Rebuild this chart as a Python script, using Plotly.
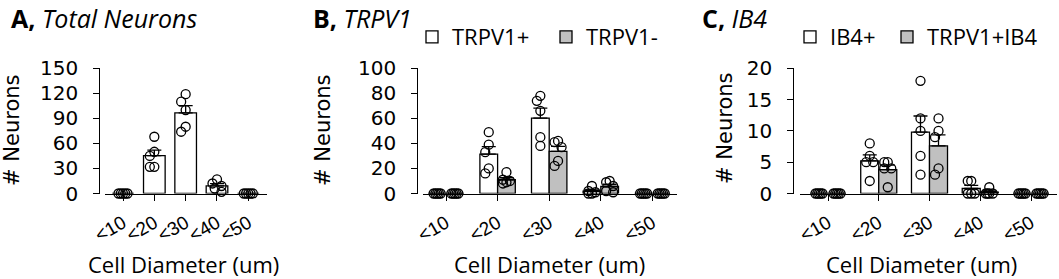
import numpy as np
import plotly.graph_objects as go

# ---------------- data ----------------
categories = ["<10", "<20", "<30", "<40", "<50"]

# Panel A – total neurons per animal (5 animals per size bin)
total_neurons = [[0, 0, 0, 0, 0],
                 [68, 50, 45, 32, 32],
                 [119, 110, 100, 80, 74],
                 [17, 12, 9, 6, 2],
                 [0, 0, 0, 0, 0]]

# Panel B – TRPV1
trpv1_pos = [[0, 0, 0, 0, 0],
             [49, 39, 33, 20, 16],
             [78, 74, 66, 45, 38],
             [6, 2, 1, 0, 0],
             [0, 0, 0, 0, 0]]
trpv1_neg = [[0, 0, 0, 0, 0],
             [17, 11, 10, 9, 8],
             [42, 41, 37, 26, 22],
             [10, 9, 6, 2, 1],
             [0, 0, 0, 0, 0]]

# Panel C – IB4
ib4_pos = [[0, 0, 0, 0, 0],
           [8, 6, 5, 5, 2],
           [18, 12, 10, 6, 3],
           [2, 2, 0, 0, 0],
           [0, 0, 0, 0, 0]]
trpv1_ib4 = [[0, 0, 0, 0, 0],
             [5, 5, 4, 4, 1],
             [12, 10, 9, 4, 3],
             [1, 0, 0, 0, 0],
             [0, 0, 0, 0, 0]]

panel_titles = ["<b>A,</b> <i>Total Neurons</i>", "<b>B,</b> <i>TRPV1</i>", "<b>C,</b> <i>IB4</i>"]
y_title = "# Neurons"
x_title = "Cell Diameter (um)"

# ---------------- layout geometry (pixels) ----------------
W, H = 1059, 279
Y_TOP, Y_BOT = 68.3, 193.5
WHITE, GRAY = "#ffffff", "#c0c0c0"
ARIAL = "Liberation Sans, Arial, sans-serif"
WIDE = "DejaVu Sans, sans-serif"
CALIBRI = "Open Sans, sans-serif"


def fx(p):
    return p / W


def fy(p):
    return 1 - p / H


panels = [
    dict(series=[("Total", total_neurons, WHITE, None)], ymax=150, dtick=30,
         yax_px=99.3, x0=105, x1=266.7, cat0=123, step=31.33, barw=0.69,
         title_px=(10, 18), ytitle_px=(12, 131), xtitle_px=(183, 264), legend=None),
    dict(series=[("TRPV1+", trpv1_pos, WHITE, 89), ("TRPV1-", trpv1_neg, GRAY, 90)],
         ymax=100, dtick=20,
         yax_px=417.3, x0=423, x1=677, cat0=446, step=51.6, barw=0.343,
         title_px=(312, 18), ytitle_px=(323, 131), xtitle_px=(549, 264),
         legend=dict(x=412)),
    dict(series=[("IB4+", ib4_pos, WHITE, 52), ("TRPV1+IB4", trpv1_ib4, GRAY, 120)],
         ymax=20, dtick=5,
         yax_px=793.3, x0=800, x1=1057, cat0=828, step=50.75, barw=0.355,
         title_px=(701, 18), ytitle_px=(725, 129), xtitle_px=(921, 264),
         legend=dict(x=790)),
]


def dodge(vals, ypx, maxw, mind=8.0):
    """Prism-like horizontal spreading of overlapping points (pixel offsets)."""
    stepw = maxw / 2.0
    cands = [0.0, -stepw, stepw, -2 * stepw, 2 * stepw]
    order = np.argsort(-np.asarray(vals, dtype=float), kind="stable")
    placed, offs = [], [0.0] * len(vals)
    for i in order:
        y = vals[i] * ypx
        best, bestd = 0.0, -1.0
        for c in cands:
            d = min([np.hypot(c - px, y - py) for px, py in placed], default=1e9)
            if d >= mind:
                best = c
                break
            if d > bestd:
                bestd, best = d, c
        offs[i] = best
        placed.append((best, y))
    return offs


fig = go.Figure()
layout = dict(
    width=W, height=H, margin=dict(l=0, r=0, t=0, b=0, pad=0, autoexpand=False),
    paper_bgcolor="white", plot_bgcolor="rgba(0,0,0,0)",
    barmode="overlay", showlegend=True, annotations=[],
)

for k, p in enumerate(panels):
    sfx = "" if k == 0 else str(k + 1)
    xa, ya = "x" + sfx, "y" + sfx
    ns = len(p["series"])
    ypx = (Y_BOT - Y_TOP) / p["ymax"]
    maxw = 4.5 if ns == 1 else 3.5
    for j, (name, vals, fill, lw) in enumerate(p["series"]):
        shift = 0.0 if ns == 1 else (j - 0.5) * p["barw"]
        means = [float(np.mean(v)) for v in vals]
        sems = [float(np.std(v, ddof=1) / np.sqrt(len(v))) for v in vals]
        xs = [i + shift for i in range(len(categories))]
        bar = go.Bar(
            x=xs, y=means, width=p["barw"], name=name,
            marker=dict(color=fill, line=dict(color="black", width=1.3)),
            error_y=dict(type="data", array=sems, arrayminus=[0] * len(sems),
                         symmetric=False, color="black", thickness=1.3, width=7),
            xaxis=xa, yaxis=ya, showlegend=bool(p["legend"]),
            hovertemplate="%{y:.1f}<extra>" + name + "</extra>",
        )
        if p["legend"]:
            bar.legend = "legend" + str(k + 1)
            bar.legendwidth = lw
        fig.add_trace(bar)
        px_list, py_list = [], []
        for i, v in enumerate(vals):
            offs = dodge(v, ypx, maxw)
            for val, o in zip(v, offs):
                px_list.append(i + shift + o / p["step"])
                py_list.append(val)
        fig.add_trace(go.Scatter(
            x=px_list, y=py_list, mode="markers", xaxis=xa, yaxis=ya,
            marker=dict(symbol="circle-open", size=9, color="black", line=dict(width=1.3)),
            showlegend=False, cliponaxis=False, hoverinfo="y",
        ))

    rng = [(p["x0"] - p["cat0"]) / p["step"], (p["x1"] - p["cat0"]) / p["step"]]
    layout["xaxis" + sfx] = dict(
        domain=[fx(p["x0"]), fx(p["x1"])], range=rng, anchor=ya,
        tickmode="array", tickvals=list(range(len(categories))), ticktext=categories,
        tickangle=-30, ticks="outside", ticklen=6, tickwidth=1.3, tickcolor="black",
        showline=True, linecolor="black", linewidth=1.3, showgrid=False, zeroline=False,
        tickfont=dict(family=ARIAL, size=19, color="black"), ticklabelstandoff=4,
        automargin=False,
    )
    layout["yaxis" + sfx] = dict(
        domain=[fy(Y_BOT), fy(Y_TOP)], range=[0, p["ymax"]], dtick=p["dtick"],
        anchor="free", position=fx(p["yax_px"]),
        ticks="outside", ticklen=6, tickwidth=1.3, tickcolor="black",
        showline=True, linecolor="black", linewidth=1.3, showgrid=False, zeroline=False,
        tickfont=dict(family=WIDE, size=20, color="black"), ticklabelstandoff=11,
        automargin=False,
    )
    layout["annotations"] += [
        dict(text=panel_titles[k], x=fx(p["title_px"][0]), y=fy(p["title_px"][1]),
             xref="paper", yref="paper", xanchor="left", yanchor="middle", showarrow=False,
             borderpad=0, font=dict(family=CALIBRI, size=25, color="black")),
        dict(text=y_title, x=fx(p["ytitle_px"][0]), y=fy(p["ytitle_px"][1]), textangle=-90,
             xref="paper", yref="paper", xanchor="center", yanchor="middle", showarrow=False,
             borderpad=0, font=dict(family=WIDE, size=21, color="black")),
        dict(text=x_title, x=fx(p["xtitle_px"][0]), y=fy(p["xtitle_px"][1]),
             xref="paper", yref="paper", xanchor="center", yanchor="middle", showarrow=False,
             borderpad=0, font=dict(family=CALIBRI, size=22, color="black")),
    ]
    if p["legend"]:
        layout["legend" + str(k + 1)] = dict(
            orientation="h", x=fx(p["legend"]["x"]), y=fy(37), xanchor="left", yanchor="middle",
            entrywidthmode="pixels",
            bgcolor="rgba(0,0,0,0)", borderwidth=0,
            font=dict(family=CALIBRI, size=22, color="black"),
        )

fig.update_layout(**layout)
fig.write_html("out.html", config={"displayModeBar": False},
               post_script="document.body.style.margin='0';")
